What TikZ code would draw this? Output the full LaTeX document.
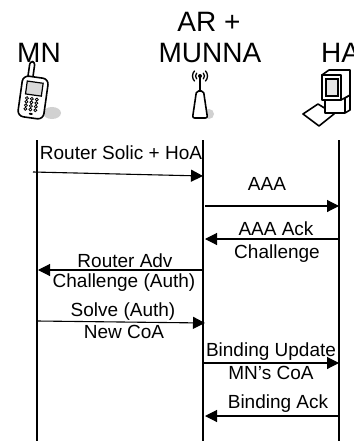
\documentclass[tikz,border=0pt]{standalone}
\usepackage{fontspec}
\setmainfont{Liberation Sans}
\usetikzlibrary{arrows.meta}
\begin{document}
\begin{tikzpicture}[x=1pt,y=-1pt,
  msg/.style={line width=1.1pt,-{Triangle[length=12pt,width=12pt]}},
  life/.style={line width=1.2pt},
  lbl/.style={font=\fontsize{19}{19}\selectfont,anchor=base,inner sep=0pt},
  hdr/.style={font=\fontsize{28}{28}\selectfont,anchor=base,inner sep=0pt},
  icon/.style={draw=black,line width=1.6pt,fill=white,line join=round},
  shade/.style={fill=black!18,draw=none}]
\useasboundingbox (0,0) rectangle (353,441);
% headers
\node[hdr] (hAR) at (209,32) {AR +};
\node[hdr] (hMUNNA) at (210,63) {MUNNA};
\node[hdr] (hMN) at (39,63) {MN};
\node[hdr,anchor=base west] (hHA) at (321,63) {HA};
% phone icon
\fill[shade] (52,113) ellipse (9 and 6);
\begin{scope}[rotate around={-8:(33,98)}]
  \draw[icon,rounded corners=3pt] (25,62) rectangle (30,80);
  \draw[icon,rounded corners=6pt] (20,77) rectangle (46,118);
  \draw[line width=1.2pt,fill=black!15] (25,82) rectangle (41,95);
  \foreach \i in {0,1,2} \foreach \j in {0,1,2,3}
    \draw[line width=0.8pt] (27+5*\i,99+3.6*\j) circle (1.5);
  \fill (33,114) ellipse (2 and 1);
\end{scope}
% antenna icon
\fill[shade] (209,114) ellipse (5 and 5);
\fill (200,76) circle (2);
\foreach \r in {4.5,7.5} {
  \draw[line width=1.3pt] (200,76) ++(135:\r) arc (135:225:\r);
  \draw[line width=1.3pt] (200,76) ++(45:\r) arc (45:-45:\r);
}
\draw[line width=1.8pt] (200,76) -- (200,92);
\draw[icon,rounded corners=2pt] (196.5,91) -- (203.5,91) -- (207.5,118) -- (192.5,118) -- cycle;
% computer icon
\draw[icon] (303,114) -- (318,104) -- (334,114) -- (319,126) -- cycle;
\draw[icon] (325,98) -- (345,98) -- (350,95) -- (350,110) -- (345,113) -- (325,113) -- cycle;
\draw[line width=1.2pt] (345,98) -- (345,113);
\draw[icon] (322,75) -- (341,75) -- (341,100) -- (322,100) -- cycle;
\draw[icon] (322,75) -- (329,70) -- (350,70) -- (350,95) -- (341,100) -- (341,75) -- cycle;
\draw[line width=1.2pt,fill=black!10] (326,79) rectangle (338,96);
% lifelines
\coordinate (mnT) at (37,140); \coordinate (mnB) at (37,441);
\coordinate (arT) at (203,140); \coordinate (arB) at (203,441);
\coordinate (haT) at (339,140); \coordinate (haB) at (339,441);
\draw[life] (mnT) -- (mnB);
\draw[life] (arT) -- (arB);
\draw[life] (haT) -- (haB);
% messages
\coordinate (m1a) at (33,172); \coordinate (m1b) at (203,176);
\coordinate (m2a) at (205,206); \coordinate (m2b) at (339,206);
\coordinate (m3a) at (339,239); \coordinate (m3b) at (205,239);
\coordinate (m4a) at (203,270); \coordinate (m4b) at (38,270);
\coordinate (m5a) at (37,321); \coordinate (m5b) at (205,323);
\coordinate (m6a) at (203,363); \coordinate (m6b) at (339,363);
\coordinate (m7a) at (339,416); \coordinate (m7b) at (205,416);
\draw[msg] (m1a) -- (m1b);
\draw[msg] (m2a) -- (m2b);
\draw[msg] (m3a) -- (m3b);
\draw[msg] (m4a) -- (m4b);
\draw[msg] (m5a) -- (m5b);
\draw[msg] (m6a) -- (m6b);
\draw[msg] (m7a) -- (m7b);
% labels
\node[lbl] (l1) at (121,159) {Router Solic + HoA};
\node[lbl] (l2) at (267,190) {AAA};
\node[lbl] (l3a) at (276,235) {AAA Ack};
\node[lbl] (l3b) at (277,258) {Challenge};
\node[lbl] (l4a) at (125,267) {Router Adv};
\node[lbl] (l4b) at (124,287) {Challenge (Auth)};
\node[lbl] (l5a) at (123,316) {Solve (Auth)};
\node[lbl] (l5b) at (124,338) {New CoA};
\node[lbl] (l6a) at (271,356) {Binding Update};
\node[lbl] (l6b) at (271,379) {MN’s CoA};
\node[lbl] (l7) at (278,408) {Binding Ack};
\end{tikzpicture}
\end{document}
